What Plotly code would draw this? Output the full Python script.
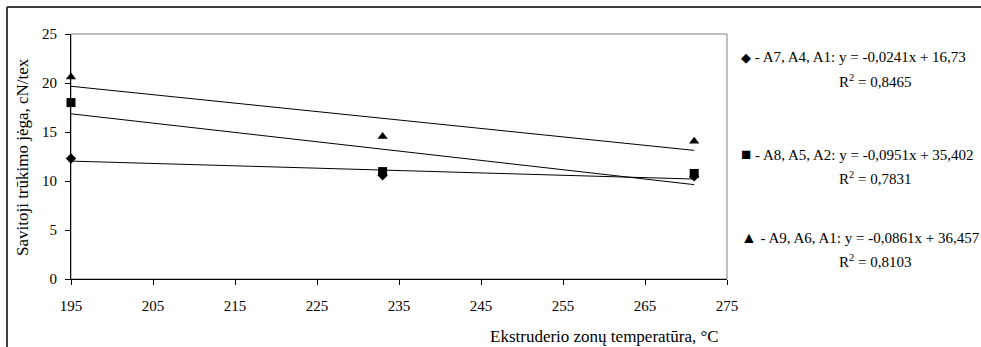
import plotly.graph_objects as go

# Extruder zone temperatures, °C
temperature = [195, 233, 271]

# Specific breaking tenacity, cN/tex, for the three yarn groups
tenacity_a7_a4_a1 = [12.3, 10.58, 10.47]
tenacity_a8_a5_a2 = [18.0, 10.96, 10.77]
tenacity_a9_a6_a1 = [20.6, 14.53, 14.06]

# Linear trend coefficients and R² for each group
slopes = [-0.0241, -0.0951, -0.0861]
intercepts = [16.73, 35.402, 36.457]
r_squared = ["0,8465", "0,7831", "0,8103"]
group_names = ["A7, A4, A1", "A8, A5, A2", "A9, A6, A1"]
symbols = ["diamond", "square", "triangle-up"]
glyphs = ["\u25c6", "\u25a0", "\u25b2"]
glyph_sizes = [13, 17, 16]

x_ticks = [195, 205, 215, 225, 235, 245, 255, 265, 275]
y_ticks = [0, 5, 10, 15, 20, 25]

FIG_W, FIG_H = 981, 347
L, R, T, B = 71, 727, 34, 279
PW, PH = R - L, B - T
FONT = "Liberation Serif, Times New Roman, serif"


def px(xp):
    return (xp - L) / PW


def py(yp):
    return (B - yp) / PH


def fmt(v, decimals):
    return f"{v:.{decimals}f}".replace(".", ",")


fig = go.Figure()

series = [tenacity_a7_a4_a1, tenacity_a8_a5_a2, tenacity_a9_a6_a1]
sizes = [8, 9, 9]

# Trend lines over the measured temperature span
for k in range(3):
    xs = [temperature[0], temperature[-1]]
    ys = [slopes[k] * x + intercepts[k] for x in xs]
    fig.add_trace(go.Scatter(x=xs, y=ys, mode="lines",
                             line=dict(color="black", width=1),
                             hoverinfo="skip", showlegend=False))

# Measured points
for k in range(3):
    fig.add_trace(go.Scatter(x=temperature, y=series[k], mode="markers",
                             marker=dict(symbol=symbols[k], size=sizes[k], color="black",
                                         line=dict(width=0)),
                             cliponaxis=False,
                             name=group_names[k], showlegend=False))

# Legend / equation block on the right
legend_rows = [57, 154, 237]
annotations = []
for k in range(3):
    slope_txt = fmt(slopes[k], 4)
    icpt_txt = fmt(intercepts[k], 3 if k else 2)
    annotations.append(dict(
        x=px(739), y=py(legend_rows[k]), xref="paper", yref="paper",
        xanchor="left", yanchor="middle", showarrow=False,
        text=(f"<span style='font-size:{glyph_sizes[k]}px'>{glyphs[k]}</span>"
              f" - {group_names[k]}: y = {slope_txt}x + {icpt_txt}"),
        font=dict(family=FONT, size=15, color="black")))
    annotations.append(dict(
        x=px(875), y=py(legend_rows[k] + 24), xref="paper", yref="paper",
        xanchor="center", yanchor="middle", showarrow=False,
        text=f"R<sup>2</sup> = {r_squared[k]}",
        font=dict(family=FONT, size=15, color="black")))

# Axis titles
annotations.append(dict(
    x=px(604), y=py(336), xref="paper", yref="paper",
    xanchor="center", yanchor="middle", showarrow=False,
    text="Ekstruderio zonų temperatūra, °C",
    font=dict(family=FONT, size=17, color="black")))
annotations.append(dict(
    x=px(22), y=py(157), xref="paper", yref="paper",
    xanchor="center", yanchor="middle", showarrow=False, textangle=-90,
    text="Savitoji trūkimo jėga, cN/tex",
    font=dict(family=FONT, size=17, color="black")))

shapes = [
    # grey plot-area frame (top and right edges visible)
    dict(type="rect", xref="paper", yref="paper", x0=0, y0=0, x1=1, y1=1,
         line=dict(color="#808080", width=1), layer="below"),
    # outer chart border
    dict(type="line", xref="paper", yref="paper", x0=px(7), x1=px(981),
         y0=py(7), y1=py(7), line=dict(color="#404040", width=2)),
    dict(type="line", xref="paper", yref="paper", x0=px(7), x1=px(7),
         y0=py(7), y1=py(347), line=dict(color="#404040", width=2)),
]

fig.update_layout(
    width=FIG_W, height=FIG_H,
    margin=dict(l=L, r=FIG_W - R, t=T, b=FIG_H - B, pad=0),
    paper_bgcolor="white", plot_bgcolor="white",
    font=dict(family=FONT, size=15, color="black"),
    annotations=annotations, shapes=shapes,
    showlegend=False,
    xaxis=dict(range=[195, 275], tickvals=x_ticks, ticktext=[str(v) for v in x_ticks],
               showgrid=False, zeroline=False, showline=True, linecolor="black",
               linewidth=1, ticks="outside", ticklen=5, tickcolor="black",
               ticklabelstandoff=8, tickfont=dict(family=FONT, size=15)),
    yaxis=dict(range=[0, 25], tickvals=y_ticks, ticktext=[str(v) for v in y_ticks],
               showgrid=False, zeroline=False, showline=True, linecolor="black",
               linewidth=1, ticks="outside", ticklen=5, tickcolor="black",
               ticklabelstandoff=5, tickfont=dict(family=FONT, size=15)),
)

fig.write_html("out.html")
